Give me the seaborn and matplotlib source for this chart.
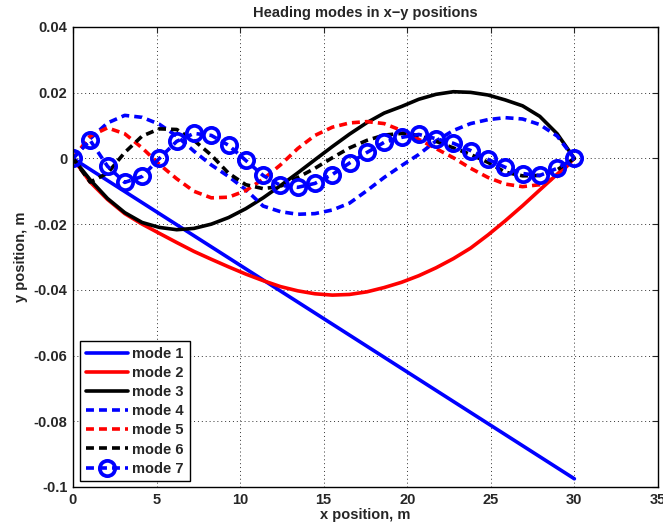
import matplotlib

matplotlib.use("Agg")
import matplotlib.pyplot as plt
import numpy as np
import pandas as pd
import seaborn as sns

# -----------------------------------------------------------------------------
# Data
# -----------------------------------------------------------------------------
x_nodes = [0.0, 1.03, 2.07, 3.10, 4.14, 5.17, 6.21, 7.24, 8.28, 9.31,
           10.34, 11.38, 12.41, 13.45, 14.48, 15.52, 16.55, 17.59, 18.62, 19.66,
           20.69, 21.72, 22.76, 23.79, 24.83, 25.86, 26.90, 27.93, 28.97, 30.0]

mode1_x = [0.0, 30.0]
mode1_y = [0.0, -0.0975]

mode2_y = [0.0, -0.0072, -0.0125, -0.0168, -0.0200, -0.0228, -0.0256, -0.0283, -0.0307, -0.0330,
           -0.0352, -0.0372, -0.0390, -0.0403, -0.0412, -0.0416, -0.0414, -0.0406, -0.0393, -0.0377,
           -0.0357, -0.0333, -0.0305, -0.0273, -0.0233, -0.0190, -0.0144, -0.0096, -0.0048, 0.0]

mode3_y = [0.0, -0.0065, -0.0122, -0.0165, -0.0195, -0.0210, -0.0217, -0.0213, -0.0200, -0.0180,
           -0.0153, -0.0120, -0.0083, -0.0044, -0.0004, 0.0036, 0.0074, 0.0109, 0.0138, 0.0158,
           0.0180, 0.0195, 0.0203, 0.0201, 0.0193, 0.0178, 0.0160, 0.0128, 0.0075, 0.0]

mode4_y = [0.0, 0.0060, 0.0108, 0.0131, 0.0125, 0.0104, 0.0068, 0.0022, -0.0020, -0.0055,
           -0.0095, -0.0145, -0.0162, -0.0170, -0.0168, -0.0157, -0.0136, -0.0098, -0.0058, -0.0022,
           0.0012, 0.0053, 0.0085, 0.0106, 0.0118, 0.0124, 0.0120, 0.0103, 0.0068, 0.0]

mode5_y = [0.0, 0.0068, 0.0093, 0.0075, 0.0032, -0.0018, -0.0062, -0.0100, -0.0120, -0.0118,
           -0.0098, -0.0063, -0.0020, 0.0030, 0.0070, 0.0095, 0.0108, 0.0112, 0.0106, 0.0085,
           0.0058, 0.0030, 0.0002, -0.0030, -0.0058, -0.0078, -0.0086, -0.0080, -0.0055, 0.0]

mode6_y = [0.0, -0.0072, -0.0045, 0.0018, 0.0068, 0.0090, 0.0088, 0.0055, 0.0010, -0.0045,
           -0.0080, -0.0092, -0.0085, -0.0058, -0.0030, 0.0002, 0.0032, 0.0055, 0.0071, 0.0076,
           0.0070, 0.0052, 0.0032, 0.0012, -0.0012, -0.0042, -0.0053, -0.0052, -0.0035, 0.0]

mode7_y = [0.0, 0.0055, -0.0024, -0.0073, -0.0055, 0.0, 0.0052, 0.0076, 0.0070, 0.0040,
           -0.0006, -0.0052, -0.0082, -0.0088, -0.0076, -0.0049, -0.0014, 0.0018, 0.0049, 0.0064,
           0.0073, 0.0060, 0.0046, 0.0024, -0.0003, -0.0027, -0.0046, -0.0052, -0.0030, 0.0]

x_ticks = [0, 5, 10, 15, 20, 25, 30, 35]
x_tick_labels = ["0", "5", "10", "15", "20", "25", "30", "35"]
y_ticks = [-0.1, -0.08, -0.06, -0.04, -0.02, 0.0, 0.02, 0.04]
y_tick_labels = ["-0.1", "-0.08", "-0.06", "-0.04", "-0.02", "0", "0.02", "0.04"]

# -----------------------------------------------------------------------------
# Styling
# -----------------------------------------------------------------------------
sns.set_style("white")
plt.rcParams["font.family"] = ["Liberation Sans", "DejaVu Sans"]
plt.rcParams["font.weight"] = "bold"
plt.rcParams["font.size"] = 10.5

fig = plt.figure(figsize=(6.63, 5.29), dpi=100)
ax = fig.add_axes([0.110, 0.0794, 0.8824, 0.8696])

LW = 2.6
DASH = (2.2, 1.4)

series = [
    ("mode 1", mode1_x, mode1_y, "#0000ff", "-", None),
    ("mode 2", x_nodes, mode2_y, "#ff0000", "-", None),
    ("mode 3", x_nodes, mode3_y, "#000000", "-", None),
    ("mode 4", x_nodes, mode4_y, "#0000ff", "--", None),
    ("mode 5", x_nodes, mode5_y, "#ff0000", "--", None),
    ("mode 6", x_nodes, mode6_y, "#000000", "--", None),
    ("mode 7", x_nodes, mode7_y, "#0000ff", "--", "o"),
]

for name, xs, ys, color, ls, marker in series:
    df = pd.DataFrame({"x": xs, "y": ys})
    kw = dict(color=color, linewidth=LW, label=name)
    if ls == "--":
        kw["dashes"] = DASH
    if marker:
        kw.update(marker=marker, markersize=11, markerfacecolor="none",
                  markeredgecolor=color, markeredgewidth=2.7)
    sns.lineplot(data=df, x="x", y="y", ax=ax, sort=False, estimator=None, **kw)

ax.set_xlim(0, 35)
ax.set_ylim(-0.1, 0.04)
ax.set_xticks(x_ticks)
ax.set_xticklabels(x_tick_labels)
ax.set_yticks(y_ticks)
ax.set_yticklabels(y_tick_labels)
ax.tick_params(direction="in", top=True, right=True, length=4, width=0.8,
               labelsize=10.5, pad=4)
for lab in ax.get_xticklabels() + ax.get_yticklabels():
    lab.set_fontweight("bold")

ax.grid(True, linestyle=(0, (1, 3)), color="#333333", linewidth=0.7)
for sp in ax.spines.values():
    sp.set_color("black")
    sp.set_linewidth(1.0)

ax.set_title("Heading modes in x\u2212y positions", fontsize=10.5, fontweight="bold", pad=7)
ax.set_xlabel("x position, m", fontsize=10.5, fontweight="bold", labelpad=1)
ax.set_ylabel("y position, m", fontsize=10.5, fontweight="bold", labelpad=4)

leg = ax.legend(loc="lower left", bbox_to_anchor=(0.012, 0.012), frameon=True,
                fancybox=False, edgecolor="black", framealpha=1,
                handlelength=2.9, handletextpad=0.3, labelspacing=0.35,
                borderpad=0.4, borderaxespad=0.0,
                prop={"weight": "bold", "size": 10.5})
leg.get_frame().set_linewidth(1.0)

fig.savefig("out.png", dpi=100)
plt.close(fig)
